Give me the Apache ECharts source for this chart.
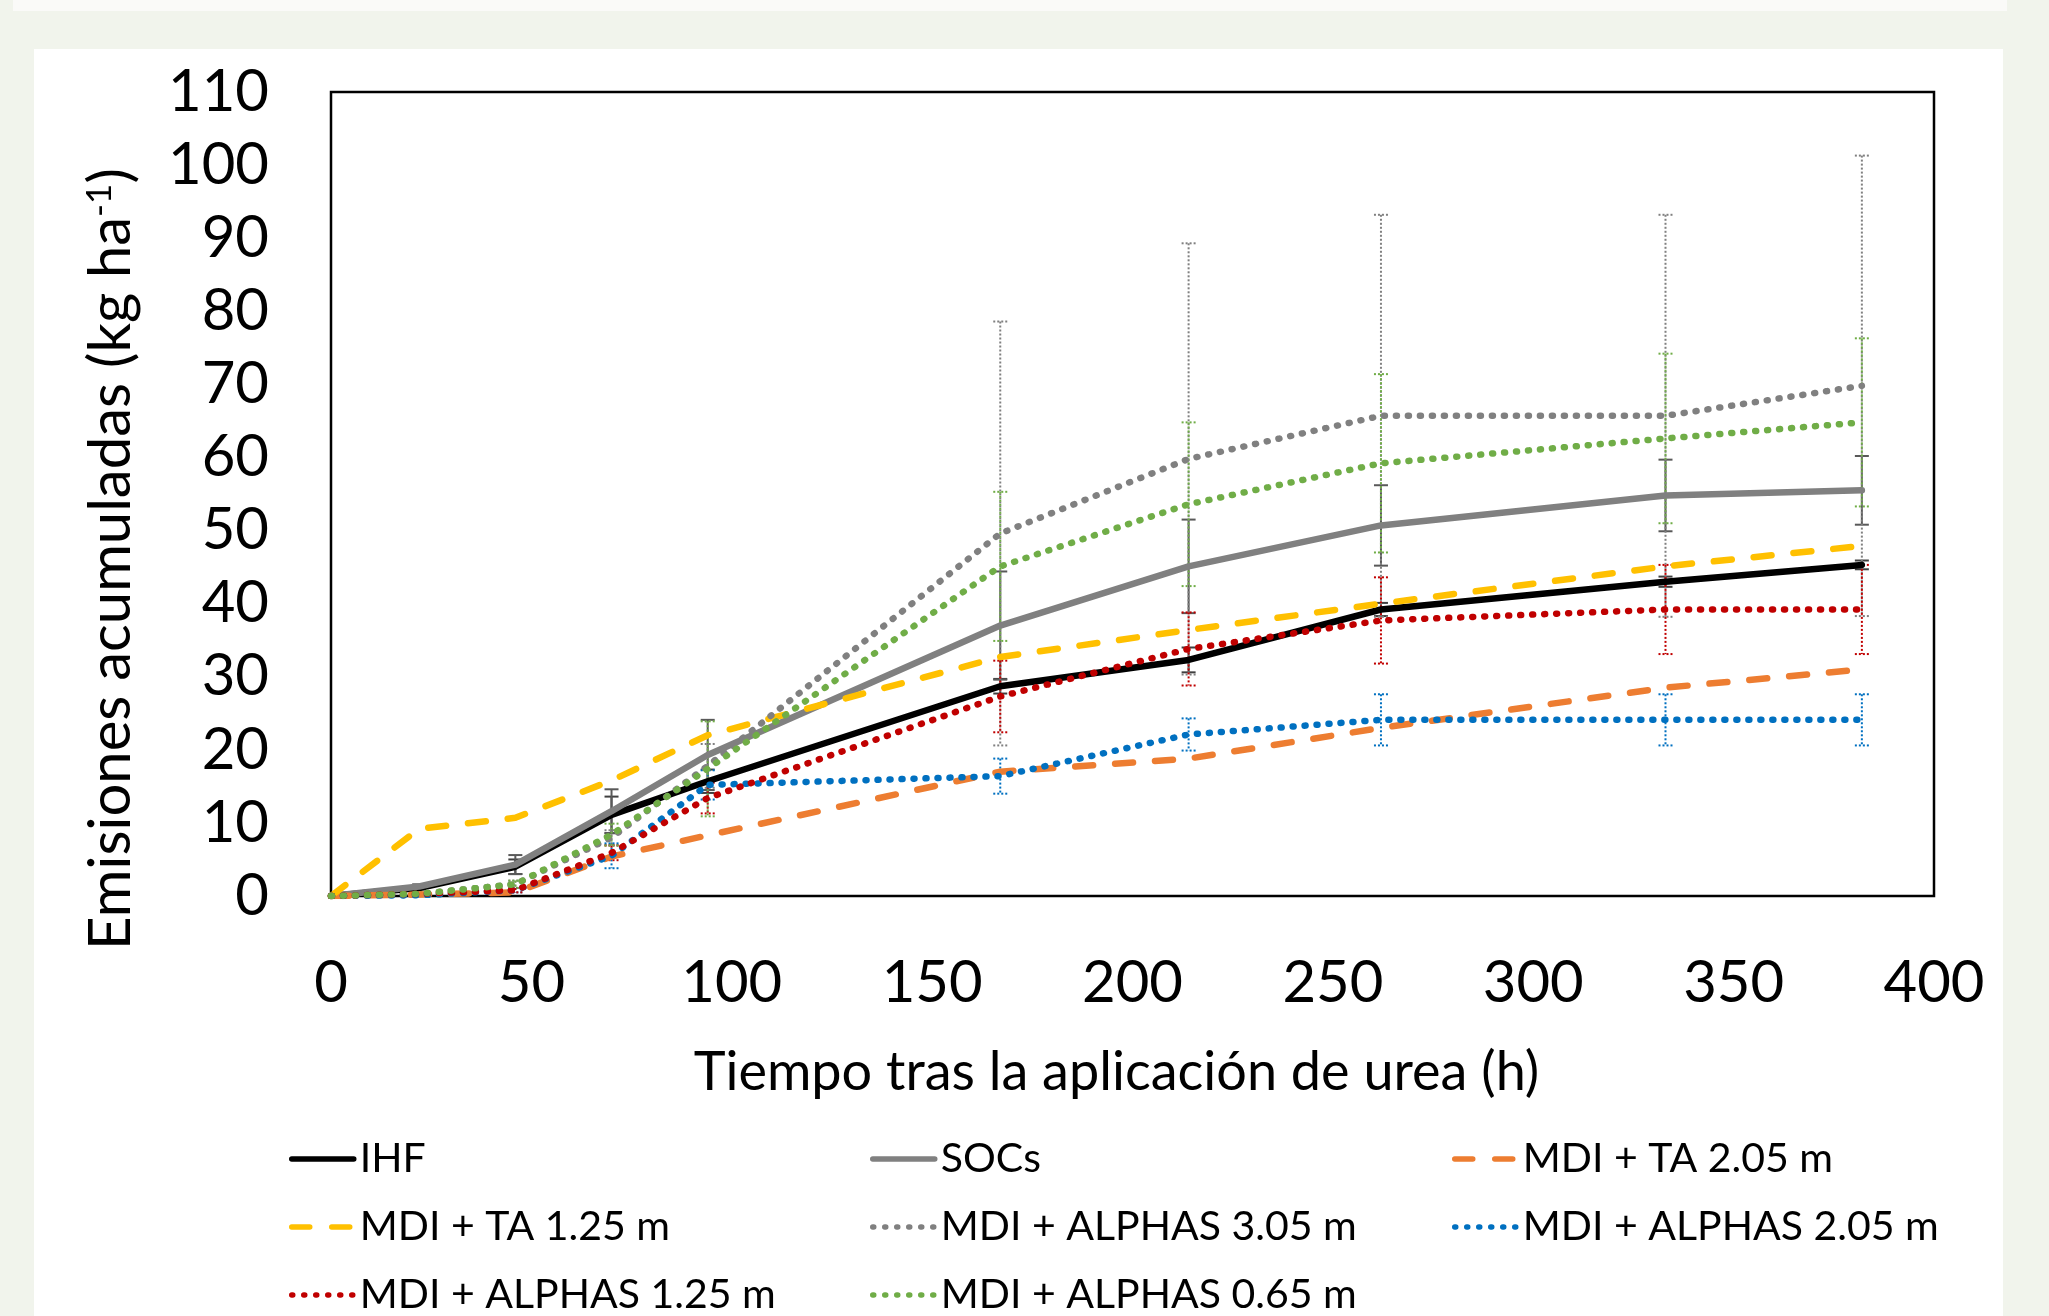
<!DOCTYPE html>
<html>
<head>
<meta charset="utf-8">
<script src="https://cdn.jsdelivr.net/npm/echarts@6/dist/echarts.min.js"></script>
<style>
  html, body { margin: 0; padding: 0; background: #f1f4ec; }
  #strip { position: absolute; left: 13px; top: 0; width: 1994px; height: 11px; background: #fafaf8; }
  #panel { position: absolute; left: 34px; top: 49px; width: 1969px; height: 1267px; background: #ffffff; }
  #chart { position: absolute; left: 0; top: 0; width: 2049px; height: 1316px; }
</style>
</head>
<body>
<div id="strip"></div>
<div id="panel"></div>
<div id="chart"></div>
<script>
// horas tras la aplicación
var hours = [0, 22, 46, 70, 94, 167, 214, 262, 333, 382];

// valores medios (kg ha-1)
var ihf      = [0, 1.1, 4.0, 11.1, 15.7, 28.7, 32.3, 39.2, 43.0, 45.3];
var socs     = [0, 1.3, 4.3, 11.6, 19.3, 37.0, 45.1, 50.7, 54.8, 55.5];
var ta205    = [0, 0.2, 0.5, 5.4, 8.3, 17.0, 18.8, 23.0, 28.5, 31.0];
var ta125    = [0, 9.2, 10.7, 15.8, 22.0, 32.7, 36.4, 40.0, 45.1, 47.9];
var alphas305 = [0, 0.3, 1.6, 8.0, 17.8, 49.6, 59.8, 65.7, 65.7, 69.8];
var alphas205 = [0, 0.1, 0.8, 5.5, 15.2, 16.4, 22.1, 24.1, 24.1, 24.1];
var alphas125 = [0, 0.3, 0.8, 5.9, 13.4, 27.3, 33.8, 37.7, 39.2, 39.2];
var alphas065 = [0, 0.3, 1.6, 8.4, 17.4, 45.1, 53.6, 59.2, 62.6, 64.8];

// barras de error (±)
var ihfErr       = [0, 0.2, 1.0, 2.5, 1.6, 1.0, 1.7, 0.9, 0.7, 0.6];
var socsErr      = [0, 0.3, 1.3, 3.0, 4.8, 7.4, 6.4, 5.5, 4.9, 4.7];
var alphas305Err = [0, 0.3, 0.5, 1.0, 3.0, 29.0, 29.5, 27.5, 27.5, 31.5];
var alphas205Err = [0, 0.1, 0.3, 1.7, 2.0, 2.4, 2.2, 3.5, 3.5, 3.5];
var alphas125Err = [0, 0.1, 0.3, 1.0, 2.1, 4.9, 5.0, 5.9, 6.1, 6.1];
var alphas065Err = [0, 0.2, 0.5, 1.5, 6.5, 10.2, 11.2, 12.2, 11.6, 11.5];

var yTicks = [0, 110, 10];   // min, max, intervalo
var xTicks = [0, 400, 50];

var FONT = 'Lato';
var DOT = [1, 11];
var DASH = [18, 22];

function pts(vals) {
    return hours.map(function (h, i) { return [h, vals[i]]; });
}

function lineSeries(name, vals, color, type) {
    return {
        name: name,
        type: 'line',
        data: pts(vals),
        symbol: 'none',
        smooth: false,
        lineStyle: { color: color, width: 6.5, type: type, cap: 'round', join: 'round' },
        itemStyle: { color: color }
    };
}

function errSeries(vals, errs, color, dotted) {
    var data = [];
    hours.forEach(function (h, i) {
        if (errs[i] > 0) data.push([h, vals[i], errs[i]]);
    });
    return {
        type: 'custom',
        silent: true,
        data: data,
        renderItem: function (params, api) {
            var x = api.value(0), y = api.value(1), e = api.value(2);
            var top = api.coord([x, y + e]);
            var bot = api.coord([x, y - e]);
            var hw = 7;
            var st = { stroke: color, lineWidth: 2, lineDash: dotted ? [2, 2] : null, fill: null };
            return {
                type: 'group',
                children: [
                    { type: 'line', shape: { x1: top[0], y1: top[1], x2: bot[0], y2: bot[1] }, style: st },
                    { type: 'line', shape: { x1: top[0] - hw, y1: top[1], x2: top[0] + hw, y2: top[1] }, style: st },
                    { type: 'line', shape: { x1: bot[0] - hw, y1: bot[1], x2: bot[0] + hw, y2: bot[1] }, style: st }
                ]
            };
        }
    };
}

// una leyenda por elemento, en tres columnas
var legCols = [284, 865, 1447];
var legRows = [1133, 1201, 1269];
function legendItem(name, col, row) {
    return {
        left: legCols[col],
        top: legRows[row],
        itemWidth: 62,
        itemHeight: 14,
        data: [name],
        itemStyle: { opacity: 0 },
        lineStyle: { width: 5.5 },
        textStyle: { fontFamily: FONT, fontSize: 41, color: '#000', lineHeight: 42, padding: [0, 0, 0, 1] }
    };
}

var myChart = echarts.init(document.getElementById('chart'));
var option = {
    backgroundColor: 'transparent',
    animation: false,
    grid: {
        left: 331, right: 115, top: 92, bottom: 420,
        show: true, borderColor: '#000', borderWidth: 2.5, backgroundColor: '#fff'
    },
    xAxis: {
        type: 'value',
        min: xTicks[0], max: xTicks[1], interval: xTicks[2],
        axisLine: { show: false },
        axisTick: { show: false },
        splitLine: { show: false },
        axisLabel: { fontFamily: FONT, fontSize: 58, color: '#000', margin: 58 },
        name: 'Tiempo tras la aplicación de urea (h)',
        nameLocation: 'middle',
        nameGap: 150,
        nameTextStyle: { fontFamily: FONT, fontSize: 54, color: '#000', padding: [0, 32, 0, 0] }
    },
    yAxis: {
        type: 'value',
        min: yTicks[0], max: yTicks[1], interval: yTicks[2],
        axisLine: { show: false },
        axisTick: { show: false },
        splitLine: { show: false },
        axisLabel: { fontFamily: FONT, fontSize: 58, color: '#000', margin: 62 }
    },
    graphic: [{
        type: 'text',
        x: 111, y: 559,
        rotation: Math.PI / 2,
        style: {
            text: '{a|Emisiones acumuladas (kg ha}{s|-1}{a|)}',
            align: 'center',
            verticalAlign: 'middle',
            rich: {
                a: { fontFamily: FONT, fontSize: 58, fill: '#000' },
                s: { fontFamily: FONT, fontSize: 35, fill: '#000', verticalAlign: 'top', padding: [0, 0, 22, 0] }
            }
        }
    }],
    legend: [
        legendItem('IHF', 0, 0),
        legendItem('SOCs', 1, 0),
        legendItem('MDI + TA 2.05 m', 2, 0),
        legendItem('MDI + TA 1.25 m', 0, 1),
        legendItem('MDI + ALPHAS 3.05 m', 1, 1),
        legendItem('MDI + ALPHAS 2.05 m', 2, 1),
        legendItem('MDI + ALPHAS 1.25 m', 0, 2),
        legendItem('MDI + ALPHAS 0.65 m', 1, 2)
    ],
    series: [
        lineSeries('IHF', ihf, '#000000', 'solid'),
        lineSeries('SOCs', socs, '#808080', 'solid'),
        lineSeries('MDI + TA 2.05 m', ta205, '#ED7D31', DASH),
        lineSeries('MDI + TA 1.25 m', ta125, '#FFC000', DASH),
        lineSeries('MDI + ALPHAS 3.05 m', alphas305, '#808080', DOT),
        lineSeries('MDI + ALPHAS 2.05 m', alphas205, '#0070C0', DOT),
        lineSeries('MDI + ALPHAS 1.25 m', alphas125, '#C00000', DOT),
        lineSeries('MDI + ALPHAS 0.65 m', alphas065, '#70AD47', DOT),
        errSeries(ihf, ihfErr, '#404040', false),
        errSeries(socs, socsErr, '#595959', false),
        errSeries(alphas305, alphas305Err, '#808080', true),
        errSeries(alphas205, alphas205Err, '#0070C0', true),
        errSeries(alphas125, alphas125Err, '#C00000', true),
        errSeries(alphas065, alphas065Err, '#70AD47', true)
    ]
};
myChart.setOption(option);
window.onresize = function () { myChart.resize(); };
</script>
</body>
</html>
